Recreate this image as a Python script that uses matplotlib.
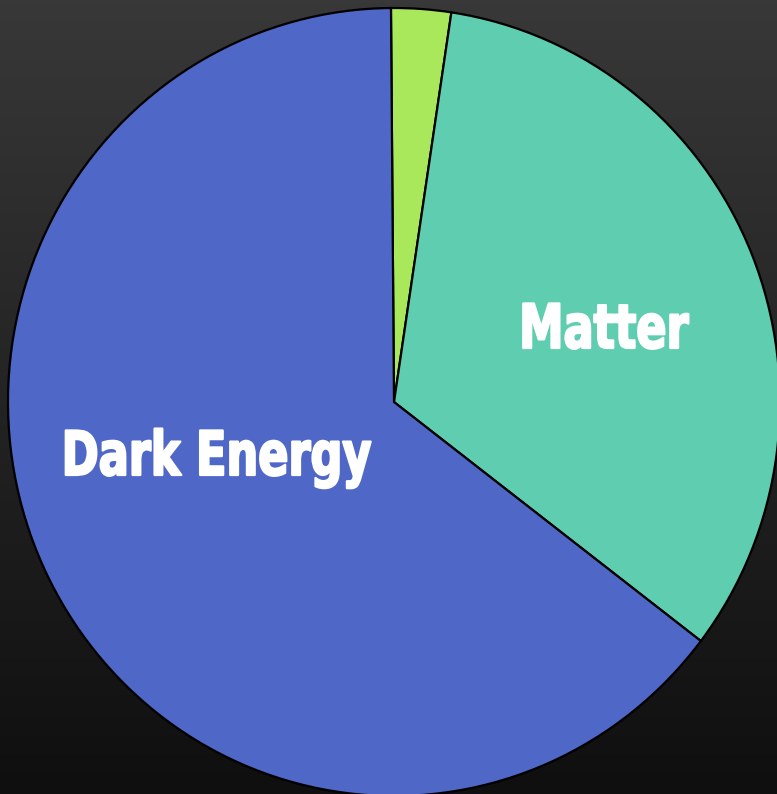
import matplotlib
matplotlib.use("Agg")
import matplotlib.pyplot as plt
from matplotlib.patheffects import AbstractPathEffect
from matplotlib.transforms import Affine2D
import numpy as np

labels = ["Baryons", "Matter", "Dark Energy"]
shares = [2.5, 33.0, 64.5]
colors = ["#a8e85a", "#5ecdb0", "#4f68c8"]
shown = ["", "Matter", "Dark Energy"]


class Squeeze(AbstractPathEffect):
    """Narrow the glyphs around their centre (no condensed face installed)."""

    def __init__(self, sx, lw=0.0):
        super().__init__()
        self.sx = sx
        self.lw = lw

    def draw_path(self, renderer, gc, tpath, affine, rgbFace=None):
        ext = tpath.get_extents(affine)
        mid = (ext.x0 + ext.x1) / 2
        aff = affine + Affine2D().translate(-mid, 0).scale(self.sx, 1).translate(mid, 0)
        gc0 = renderer.new_gc()
        gc0.copy_properties(gc)
        if self.lw:
            gc0.set_linewidth(self.lw)
            gc0.set_foreground(rgbFace)
        renderer.draw_path(gc0, tpath, aff, rgbFace)
        gc0.restore()


W, H = 777, 794
fig = plt.figure(figsize=(W / 100, H / 100), dpi=100)

# dark vertical gradient behind everything
bg = fig.add_axes([0, 0, 1, 1])
grad = np.linspace(0, 1, 256).reshape(-1, 1)
bg.imshow(grad, aspect="auto", cmap=matplotlib.colors.LinearSegmentedColormap.from_list(
    "bg", ["#383838", "#0f0f0f"]), extent=[0, 1, 0, 1])
bg.axis("off")

# pie centre ~ (394, 402) px, radii ~386 x 394 px
cx, cy, rx, ry = 394, 402, 386, 394
ax = fig.add_axes([(cx - rx) / W, (H - cy - ry) / H, 2 * rx / W, 2 * ry / H])
ax.set_facecolor("none")
wedges, _ = ax.pie(shares, colors=colors, startangle=90.45, counterclock=False,
                   radius=1, wedgeprops=dict(edgecolor="black", linewidth=1.6))
ax.set_xlim(-1, 1)
ax.set_ylim(-1, 1)
ax.set_aspect("auto")
ax.axis("off")

font = dict(family="DejaVu Sans", weight="bold", color="white", fontsize=44,
            path_effects=[Squeeze(0.73, lw=1.6)])
ax.text((603 - cx) / rx, (cy - 348) / ry, shown[1], ha="center", va="baseline", **font)
ax.text((216 - cx) / rx, (cy - 475) / ry, shown[2], ha="center", va="baseline", **font)

fig.savefig("out.png", dpi=100)
